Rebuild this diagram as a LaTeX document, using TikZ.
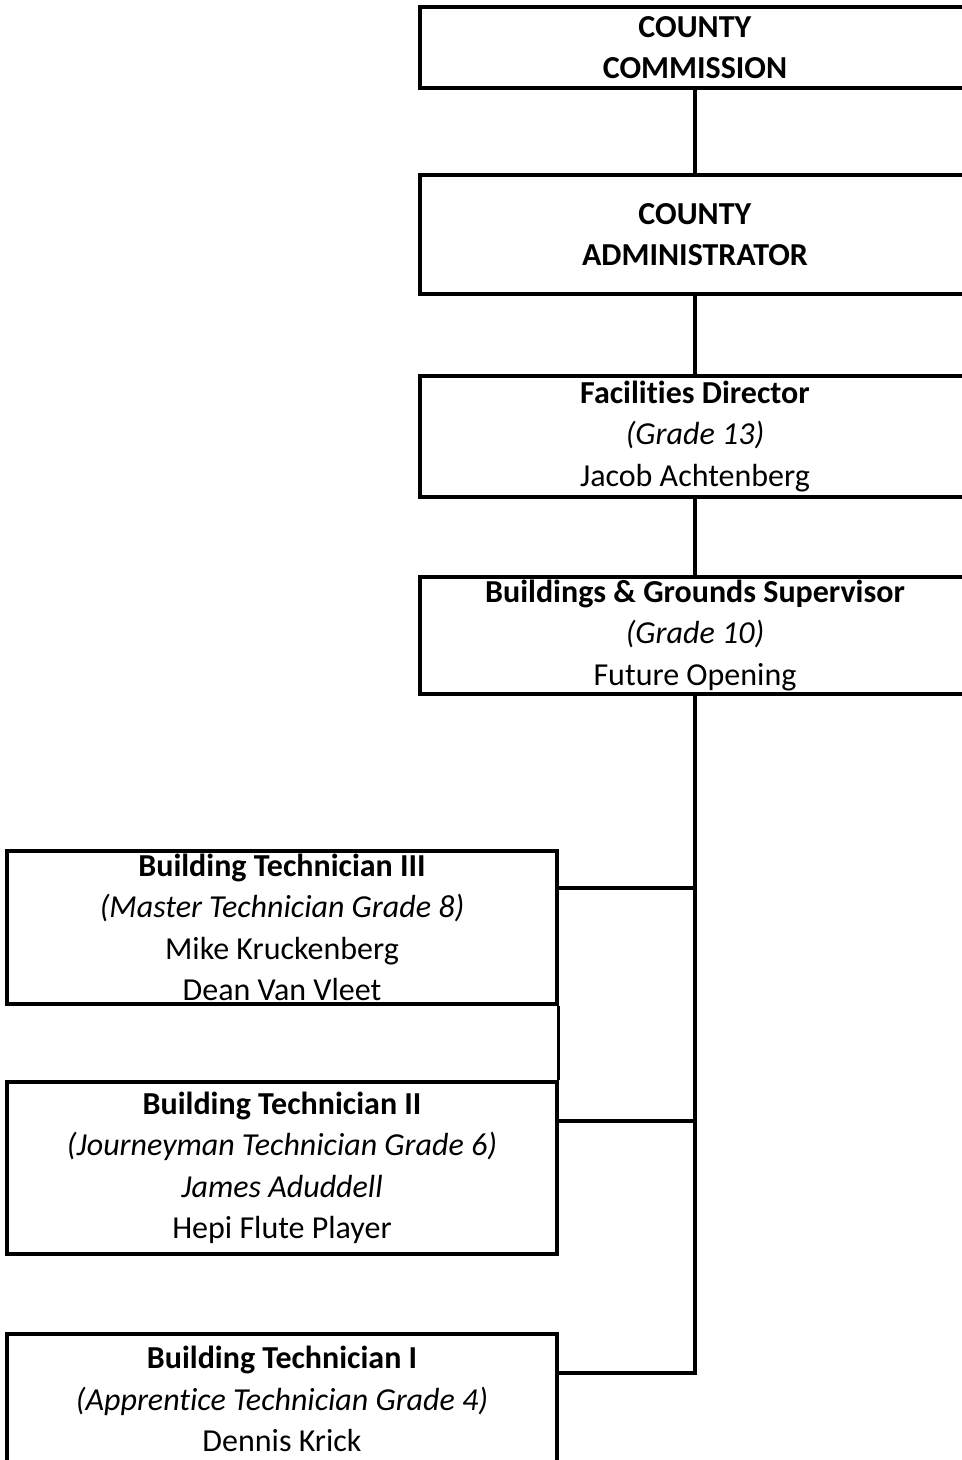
\documentclass[tikz,border=0pt]{standalone}
\usepackage{fontspec}
\setmainfont{Carlito}[Ligatures=NoCommon]

\tikzset{
  post/.style={draw, line width=2.4pt, minimum width=412.5pt, inner sep=0pt,
    align=center, font=\fontsize{24}{31}\selectfont},
  link/.style={line width=2.4pt}
}

\begin{document}
\begin{tikzpicture}[x=0.75pt, y=-0.75pt]
  \useasboundingbox (0,0) rectangle (962,1460);
  % upper chain
  \node[post, minimum height=60.75pt] (comm) at (695,47.5) {\textbf{COUNTY}\\\textbf{COMMISSION}};
  \node[post, minimum height=89.25pt] (admin) at (695,234.5) {\textbf{COUNTY}\\\textbf{ADMINISTRATOR}};
  \node[post, minimum height=90.75pt] (facdir) at (695,436.5) {\textbf{Facilities Director}\\\textit{(Grade 13)}\\Jacob Achtenberg};
  \node[post, minimum height=87.75pt] (bgsup) at (695,635.5) {\textbf{Buildings \& Grounds Supervisor}\\\textit{(Grade 10)}\\Future Opening};
  % technicians
  \node[post, minimum height=114.75pt] (tech3) at (282,927.5) {\textbf{Building Technician III}\\\textit{(Master Technician Grade 8)}\\Mike Kruckenberg\\Dean Van Vleet};
  \node[post, minimum height=129pt] (tech2) at (282,1168) {\textbf{Building Technician II}\\\textit{(Journeyman Technician Grade 6)}\\\textit{James Aduddell}\\Hepi Flute Player};
  \node[post, minimum height=97.5pt] (tech1) at (282,1399) {\textbf{Building Technician I}\\\textit{(Apprentice Technician Grade 4)}\\Dennis Krick};
  \coordinate (j3) at (695,888);
  \coordinate (j2) at (695,1121);
  \coordinate (j1) at (695,1373);
  % connectors
  \draw[link] (comm) -- (admin);
  \draw[link] (admin) -- (facdir);
  \draw[link] (facdir) -- (bgsup);
  \draw[link] (bgsup.south) -- (j1) -- (tech1.east |- j1);
  \draw[link] (j3) -- (tech3.east |- j3);
  \draw[link] (j2) -- (tech2.east |- j2);
  \draw[link] (tech3.south east) -- (tech2.north east);
\end{tikzpicture}
\end{document}
